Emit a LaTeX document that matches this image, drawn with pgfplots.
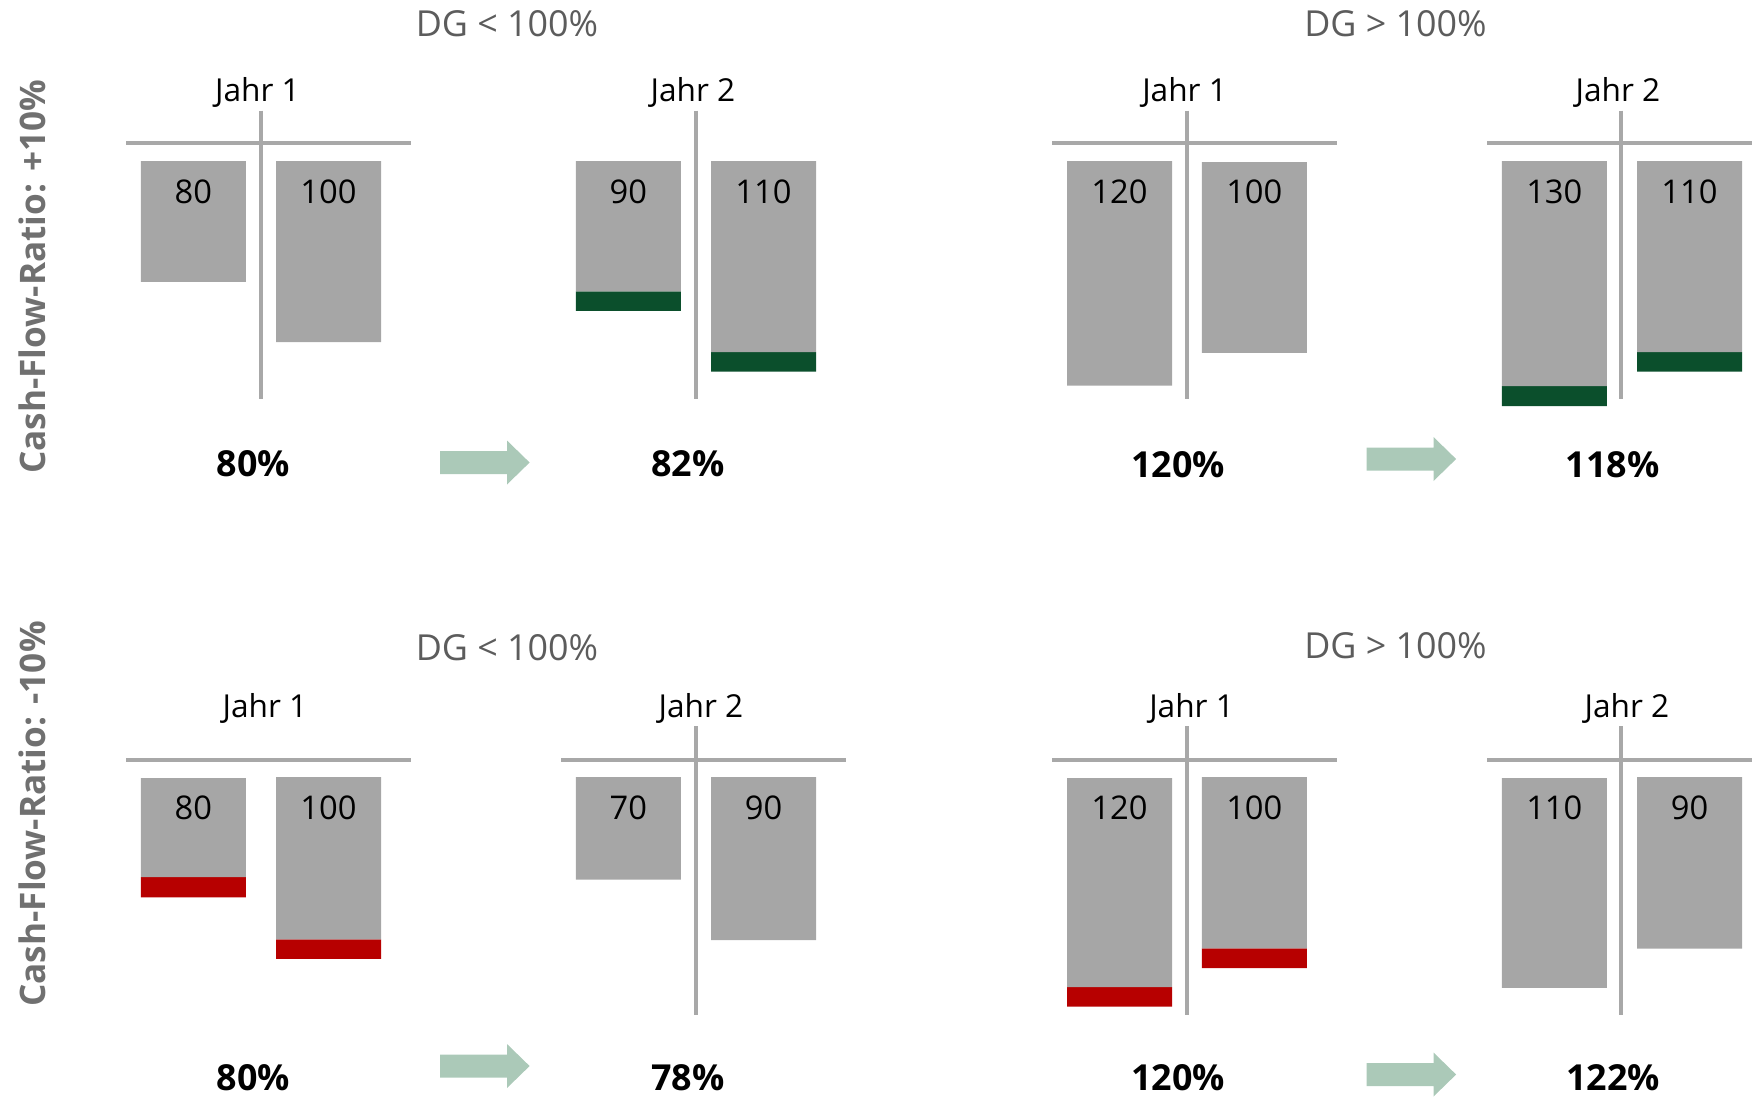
\documentclass[border=0pt]{standalone}
\usepackage{pgfplots}
\usepackage{pgfplotstable}
\pgfplotsset{compat=1.18}
\usepackage{fontspec}
\setmainfont{Open Sans}
\definecolor{bargray}{HTML}{A6A6A6}
\definecolor{linegray}{HTML}{A8A8A8}
\definecolor{dgreen}{HTML}{0B4F2C}
\definecolor{dred}{HTML}{B70000}
\definecolor{arrowc}{HTML}{ABC9B8}
\definecolor{dgtext}{HTML}{5C5C5C}
\definecolor{lbl}{HTML}{707070}

% top row bars: x centre, top edge, grey length, green length (picture pixels, downward)
\pgfplotstableread{
x top gray grn
193.3 161.2 120.6 0
328.5 161.2 180.8 0
628.3 161.2 130.1 19.5
763.5 161.2 190.8 19.7
1119.5 161.2 224.5 0
1254.3 162.2 190.6 0
1554.3 161.2 224.8 20
1689.5 161.2 190.8 19.7
}\toprow
% bottom row bars: x centre, top edge, grey length, red length
\pgfplotstableread{
x top gray red
193.3 778 99 20.3
328.5 777 162.3 19.5
628.3 777 102.5 0
763.5 777 163 0
1119.5 778 209 19.7
1254.3 777 171.3 19.7
1554.3 778 209.9 0
1689.5 777 171.7 0
}\botrow

\newcommand{\arr}[2]{% left x, centre y
  \fill[arrowc] (axis cs:#1,{#2-11.5}) -- (axis cs:{#1+67},{#2-11.5}) -- (axis cs:{#1+67},{#2-22}) -- (axis cs:{#1+89.6},#2) -- (axis cs:{#1+67},{#2+22}) -- (axis cs:{#1+67},{#2+11.5}) -- (axis cs:#1,{#2+11.5}) -- cycle;}

\tikzset{
  jahr/.style={font=\fontsize{9}{10}\selectfont, anchor=base, inner sep=0pt},
  val/.style={font=\fontsize{9.3}{10}\selectfont, anchor=base, inner sep=0pt},
  pct/.style={font=\fontsize{10.2}{12}\selectfont\bfseries, anchor=base, inner sep=0pt},
  dg/.style={font=\fontsize{10.2}{12}\selectfont, text=dgtext, anchor=base, inner sep=0pt},
  cfr/.style={font=\fontsize{10}{12}\selectfont\bfseries, text=lbl, anchor=base, rotate=90, inner sep=0pt},
  ln/.style={draw=linegray, line width=0.04cm},
}
\pgfplotsset{
  panel/.style={at={(0,0)}, anchor=south west, scale only axis,
    width=17.52cm, height=10.96cm, xmin=0, xmax=1752, ymin=0, ymax=1096,
    y dir=reverse, hide axis, clip=false, ybar stacked, bar width=105},
}

\begin{document}
\begin{tikzpicture}
\begin{axis}[panel]
\addplot[draw=none, fill=none, forget plot] table[x=x, y=top] {\toprow};
\addplot[draw=none, fill=bargray] table[x=x, y=gray] {\toprow};
\addplot[draw=none, fill=dgreen] table[x=x, y=grn] {\toprow};
\end{axis}

\begin{axis}[panel]
\addplot[draw=none, fill=none, forget plot] table[x=x, y=top] {\botrow};
\addplot[draw=none, fill=bargray] table[x=x, y=gray] {\botrow};
\addplot[draw=none, fill=dred] table[x=x, y=red] {\botrow};
\end{axis}

\begin{axis}[at={(0,0)}, anchor=south west, scale only axis,
    width=17.52cm, height=10.96cm, xmin=0, xmax=1752, ymin=0, ymax=1096,
    y dir=reverse, hide axis, clip=false]
% cross lines
\draw[ln] (axis cs:126,143.4) -- (axis cs:411,143.4);
\draw[ln] (axis cs:261,110.5) -- (axis cs:261,398.6);
\draw[ln] (axis cs:695.5,110.5) -- (axis cs:695.5,398.6);
\draw[ln] (axis cs:1052,143.4) -- (axis cs:1337,143.4);
\draw[ln] (axis cs:1187,110.5) -- (axis cs:1187,398.6);
\draw[ln] (axis cs:1487,143.4) -- (axis cs:1752,143.4);
\draw[ln] (axis cs:1621,110.5) -- (axis cs:1621,398.6);

\draw[ln] (axis cs:126,759.5) -- (axis cs:411,759.5);
\draw[ln] (axis cs:561,759.5) -- (axis cs:846,759.5);
\draw[ln] (axis cs:695.5,726) -- (axis cs:695.5,1014.8);
\draw[ln] (axis cs:1052,759.5) -- (axis cs:1337,759.5);
\draw[ln] (axis cs:1187,726) -- (axis cs:1187,1014.8);
\draw[ln] (axis cs:1487,759.5) -- (axis cs:1752,759.5);
\draw[ln] (axis cs:1621,726) -- (axis cs:1621,1014.8);

% headings
\node[dg] at (axis cs:507,36.7) {DG < 100\%};
\node[dg] at (axis cs:1395.5,36.7) {DG > 100\%};
\node[dg] at (axis cs:507,660) {DG < 100\%};
\node[dg] at (axis cs:1395.5,658) {DG > 100\%};

\node[jahr] at (axis cs:257.5,101.4) {Jahr 1};
\node[jahr] at (axis cs:693,101.4) {Jahr 2};
\node[jahr] at (axis cs:1184.6,101.4) {Jahr 1};
\node[jahr] at (axis cs:1618,101.4) {Jahr 2};
\node[jahr] at (axis cs:265,717.6) {Jahr 1};
\node[jahr] at (axis cs:701,717.6) {Jahr 2};
\node[jahr] at (axis cs:1191.6,717.6) {Jahr 1};
\node[jahr] at (axis cs:1627,717.6) {Jahr 2};

% bar values
\node[val] at (axis cs:193.3,203.5) {80};
\node[val] at (axis cs:328.5,203.5) {100};
\node[val] at (axis cs:628.3,203.5) {90};
\node[val] at (axis cs:763.5,203.5) {110};
\node[val] at (axis cs:1119.5,203.5) {120};
\node[val] at (axis cs:1254.3,203.5) {100};
\node[val] at (axis cs:1554.3,203.5) {130};
\node[val] at (axis cs:1689.5,203.5) {110};
\node[val] at (axis cs:193.3,819.7) {80};
\node[val] at (axis cs:328.5,819.7) {100};
\node[val] at (axis cs:628.3,819.7) {70};
\node[val] at (axis cs:763.5,819.7) {90};
\node[val] at (axis cs:1119.5,819.7) {120};
\node[val] at (axis cs:1254.3,819.7) {100};
\node[val] at (axis cs:1554.3,819.7) {110};
\node[val] at (axis cs:1689.5,819.7) {90};

% ratios
\node[pct] at (axis cs:253.5,476) {80\%};
\node[pct] at (axis cs:688,476) {82\%};
\node[pct] at (axis cs:1178,477) {120\%};
\node[pct] at (axis cs:1612.5,477) {118\%};
\node[pct] at (axis cs:253.5,1090) {80\%};
\node[pct] at (axis cs:688,1090) {78\%};
\node[pct] at (axis cs:1178,1090) {120\%};
\node[pct] at (axis cs:1613,1090) {122\%};

\arr{440}{462.5}
\arr{1366.5}{459}
\arr{440}{1066}
\arr{1366.5}{1074.5}

\node[cfr] at (axis cs:45,276.7) {Cash-Flow-Ratio: +10\%};
\node[cfr] at (axis cs:45,814) {Cash-Flow-Ratio: -10\%};
\end{axis}
\pgfresetboundingbox
\path (current axis.south west) rectangle (current axis.north east);
\end{tikzpicture}
\end{document}
